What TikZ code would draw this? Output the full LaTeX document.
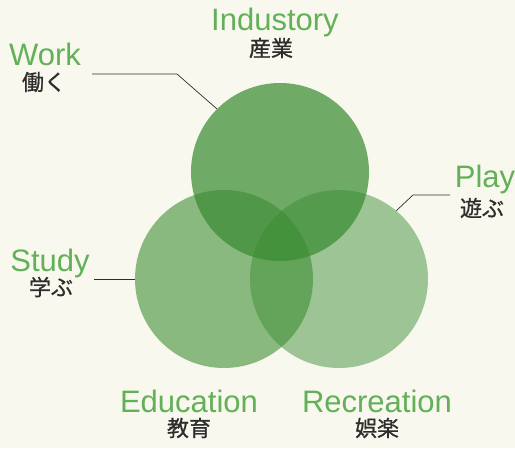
\documentclass[tikz,border=0pt]{standalone}
\usepackage{fontspec}
\setmainfont{Liberation Sans}
\newfontfamily\jpfont[FakeBold=0.8]{Noto Sans CJK JP}
\usepackage{tikz}
\usetikzlibrary{positioning}

\definecolor{paper}{RGB}{249,248,238}
\definecolor{vgreen}{RGB}{58,140,50}
\definecolor{lblgreen}{RGB}{98,176,88}
\definecolor{inkgray}{RGB}{45,45,45}

\begin{document}
\begin{tikzpicture}[x=1pt,y=-1pt,
    venn/.style={circle,inner sep=0pt,minimum size=178pt,fill=vgreen},
    eng/.style={anchor=base,text=lblgreen,font=\fontsize{31}{31}\selectfont},
    jp/.style={text=inkgray,font=\jpfont\fontsize{22}{22}\selectfont},
    leader/.style={draw=inkgray,line width=0.7pt}]

    % Paper background
    \fill[paper] (0,0) rectangle (515,448);
    \useasboundingbox (0,0) rectangle (515,448);

    % Circles (top, lower left, lower right)
    \node[venn,fill opacity=0.72] (ind) at (280,172) {};
    \node[venn,fill opacity=0.58] (edu) at (224,279) {};
    \node[venn,fill opacity=0.48] (rec) at (339,279) {};

    % Circle labels
    \node[eng] (ind-en) at (275,30) {Industory};
    \node[jp] (ind-jp) at (271,48) {産業};
    \node[eng] (edu-en) at (189,412) {Education};
    \node[jp] (edu-jp) at (189,428) {教育};
    \node[eng] (rec-en) at (377,412) {Recreation};
    \node[jp] (rec-jp) at (377,428) {娯楽};

    % Side labels
    \node[eng] (wrk-en) at (45,65) {Work};
    \node[jp] (wrk-jp) at (44,82) {働く};
    \node[eng] (ply-en) at (485,187) {Play};
    \node[jp] (ply-jp) at (482,208) {遊ぶ};
    \node[eng] (stu-en) at (50,271) {Study};
    \node[jp] (stu-jp) at (51,287) {学ぶ};

    % Leader lines
    \coordinate (wrk-a) at (92,74);
    \coordinate (ply-a) at (450,195);
    \coordinate (stu-a) at (94,279);
    \draw[leader] (wrk-a) -- ++(85,0) -- (ind.135);
    \draw[leader] (ply-a) -- ++(-37,0) -- (rec.50);
    \draw[leader] (stu-a) -- (edu.west);
\end{tikzpicture}
\end{document}
